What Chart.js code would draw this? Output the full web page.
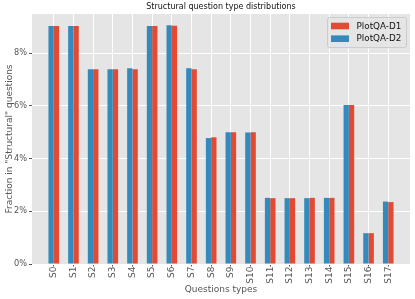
<!DOCTYPE html>
<html>
<head>
<meta charset="utf-8">
<script src="https://cdn.jsdelivr.net/npm/chart.js@4/dist/chart.umd.min.js"></script>
<style>
  html, body { margin: 0; padding: 0; background: #fff; }
</style>
</head>
<body>
<canvas id="myChart" width="415" height="299"></canvas>
<script>
const categories = ['S0', 'S1', 'S2', 'S3', 'S4', 'S5', 'S6', 'S7', 'S8', 'S9',
    'S10', 'S11', 'S12', 'S13', 'S14', 'S15', 'S16', 'S17'];
// percent of "Structural" questions
const d1Values = [9.03, 9.03, 7.39, 7.39, 7.39, 9.03, 9.04, 7.39, 4.81, 5.00,
    5.00, 2.50, 2.50, 2.51, 2.51, 6.04, 1.17, 2.35];
const d2Values = [9.03, 9.03, 7.39, 7.39, 7.43, 9.03, 9.06, 7.43, 4.78, 5.00,
    4.99, 2.51, 2.50, 2.50, 2.51, 6.04, 1.17, 2.37];
const yTicks = [0, 2, 4, 6, 8];
const chartTitle = 'Structural question type distributions';

const RED = '#E24A33';
const BLUE = '#348ABD';

Chart.defaults.font.family = "'DejaVu Sans', sans-serif";

// grey plot background + title centred over the plot
const plotBg = {
    id: 'plotBg',
    beforeDraw(chart) {
        const { ctx, chartArea: a } = chart;
        ctx.save();
        ctx.fillStyle = '#E5E5E5';
        ctx.fillRect(a.left, a.top, a.right - a.left, a.bottom - a.top);
        ctx.fillStyle = '#111';
        ctx.font = "8px 'DejaVu Sans'";
        ctx.textAlign = 'center';
        ctx.textBaseline = 'middle';
        ctx.fillText(chartTitle, (a.left + a.right) / 2, 7);
        ctx.restore();
    },
};

// legend box inside the plot, top right (D1 listed first)
const boxLegend = {
    id: 'boxLegend',
    afterDraw(chart) {
        const ctx = chart.ctx;
        const a = chart.chartArea;
        const x = a.right - 83;
        const y = a.top + 3;
        ctx.save();
        ctx.fillStyle = 'rgba(229,229,229,0.8)';
        ctx.strokeStyle = '#CCCCCC';
        ctx.lineWidth = 1;
        ctx.beginPath();
        ctx.roundRect(x + 0.5, y + 0.5, 79, 30, 2);
        ctx.fill();
        ctx.stroke();
        const items = chart.data.datasets.slice().reverse();
        ctx.font = "8.8px 'DejaVu Sans'";
        ctx.textBaseline = 'middle';
        items.forEach((ds, i) => {
            const cy = y + 9 + i * 12.7;
            ctx.fillStyle = ds.backgroundColor;
            ctx.fillRect(x + 4, cy - 3.3, 18, 6.6);
            ctx.fillStyle = '#111';
            ctx.fillText(ds.label, x + 29.5, cy + 0.5);
        });
        ctx.restore();
    },
};

const config = {
    type: 'bar',
    data: {
        datasets: [
            {
                label: 'PlotQA-D2',
                data: d2Values.map((v, i) => ({ x: i, y: v })),
                backgroundColor: BLUE,
            },
            {
                label: 'PlotQA-D1',
                data: d1Values.map((v, i) => ({ x: i, y: v })),
                backgroundColor: RED,
            },
        ],
    },
    options: {
        responsive: false,
        animation: false,
        categoryPercentage: 0.54,
        barPercentage: 1,
        layout: { padding: { left: 0, right: 5, top: 14, bottom: 0 } },
        plugins: {
            legend: { display: false },
            tooltip: { enabled: false },
        },
        scales: {
            x: {
                type: 'linear',
                offset: false,
                min: -1.107,
                max: 18.107,
                afterBuildTicks: (s) => {
                    s.ticks = categories.map((c, i) => ({ value: i }));
                },
                afterFit: (s) => { s.height = 35; },
                grid: {
                    offset: false,
                    color: '#FFFFFF',
                    lineWidth: 1,
                    tickColor: '#555555',
                    tickLength: 2.5,
                },
                border: { display: false },
                ticks: {
                    autoSkip: false,
                    maxRotation: 90,
                    minRotation: 90,
                    padding: 0,
                    color: '#555555',
                    font: { size: 9 },
                    callback: (v) => categories[v] ?? '',
                },
                title: {
                    display: true,
                    text: 'Questions types',
                    color: '#555555',
                    font: { size: 9 },
                    padding: { top: 0, bottom: 4 },
                },
            },
            y: {
                min: 0,
                max: 9.49,
                afterBuildTicks: (s) => {
                    s.ticks = yTicks.map((v) => ({ value: v }));
                },
                afterFit: (s) => { s.width = 32; },
                grid: {
                    color: '#FFFFFF',
                    lineWidth: 1,
                    tickColor: '#555555',
                    tickLength: 3,
                },
                border: { display: false },
                ticks: {
                    padding: 2,
                    color: '#555555',
                    font: { size: 8.2 },
                    callback: (v) => v + '%',
                },
                title: {
                    display: true,
                    text: 'Fraction in "Structural" questions',
                    color: '#555555',
                    font: { size: 9 },
                    padding: { top: 4, bottom: 0 },
                },
            },
        },
    },
    plugins: [plotBg, boxLegend],
};

const myChart = new Chart(document.getElementById('myChart'), config);
</script>
</body>
</html>
